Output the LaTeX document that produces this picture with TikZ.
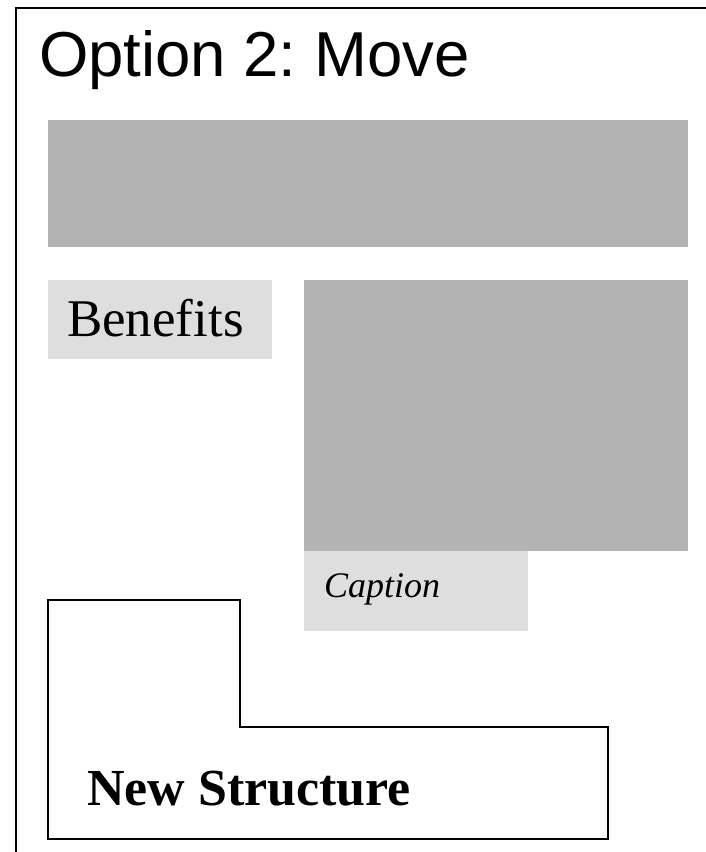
\documentclass[tikz,border=0pt]{standalone}
\usepackage{fontspec}
\setmainfont{Liberation Serif}
\newfontfamily\titlefont{Liberation Sans}
\definecolor{boxdark}{HTML}{B3B3B3}
\definecolor{boxlight}{HTML}{DEDEDE}
\frenchspacing
\begin{document}
\begin{tikzpicture}[x=1pt,y=-1pt]
      \tikzstyle{every node}+=[inner sep=0pt, outer sep=0pt]
      \tikzstyle{darkbox}=[fill=boxdark, anchor=north west]
      \tikzstyle{lightbox}=[fill=boxlight, anchor=north west]
      \tikzstyle{label}=[anchor=base west]
      \useasboundingbox (0,0) rectangle (706,852);
      \draw [black, line width=2pt] (16,860) -- (16,8) -- (720,8);
      \node [label, font=\titlefont\fontsize{63.5}{76}\selectfont] (title) at (39,76) {Option 2: Move};
      \node [darkbox, minimum width=640, minimum height=127] (banner) at (48,120) {};
      \node [lightbox, minimum width=224, minimum height=79] (benefitsbox) at (48,280) {};
      \node [label, font=\fontsize{53}{62}\selectfont] (benefits) at (67,336) {Benefits};
      \node [darkbox, minimum width=384, minimum height=271] (photo) at (304,280) {};
      \node [lightbox, minimum width=224, minimum height=80] (captionbox) at (304,551) {};
      \node [label, font=\fontsize{36}{43}\selectfont\itshape] (caption) at (324,597) {Caption};
      \draw [black, line width=2pt] (48,600) -- (240,600) -- (240,727) -- (608,727) -- (608,839) -- (48,839) -- cycle;
      \node [label, font=\fontsize{52}{62}\selectfont\bfseries] (structure) at (87,805) {New Structure};
    \end{tikzpicture}
\end{document}
